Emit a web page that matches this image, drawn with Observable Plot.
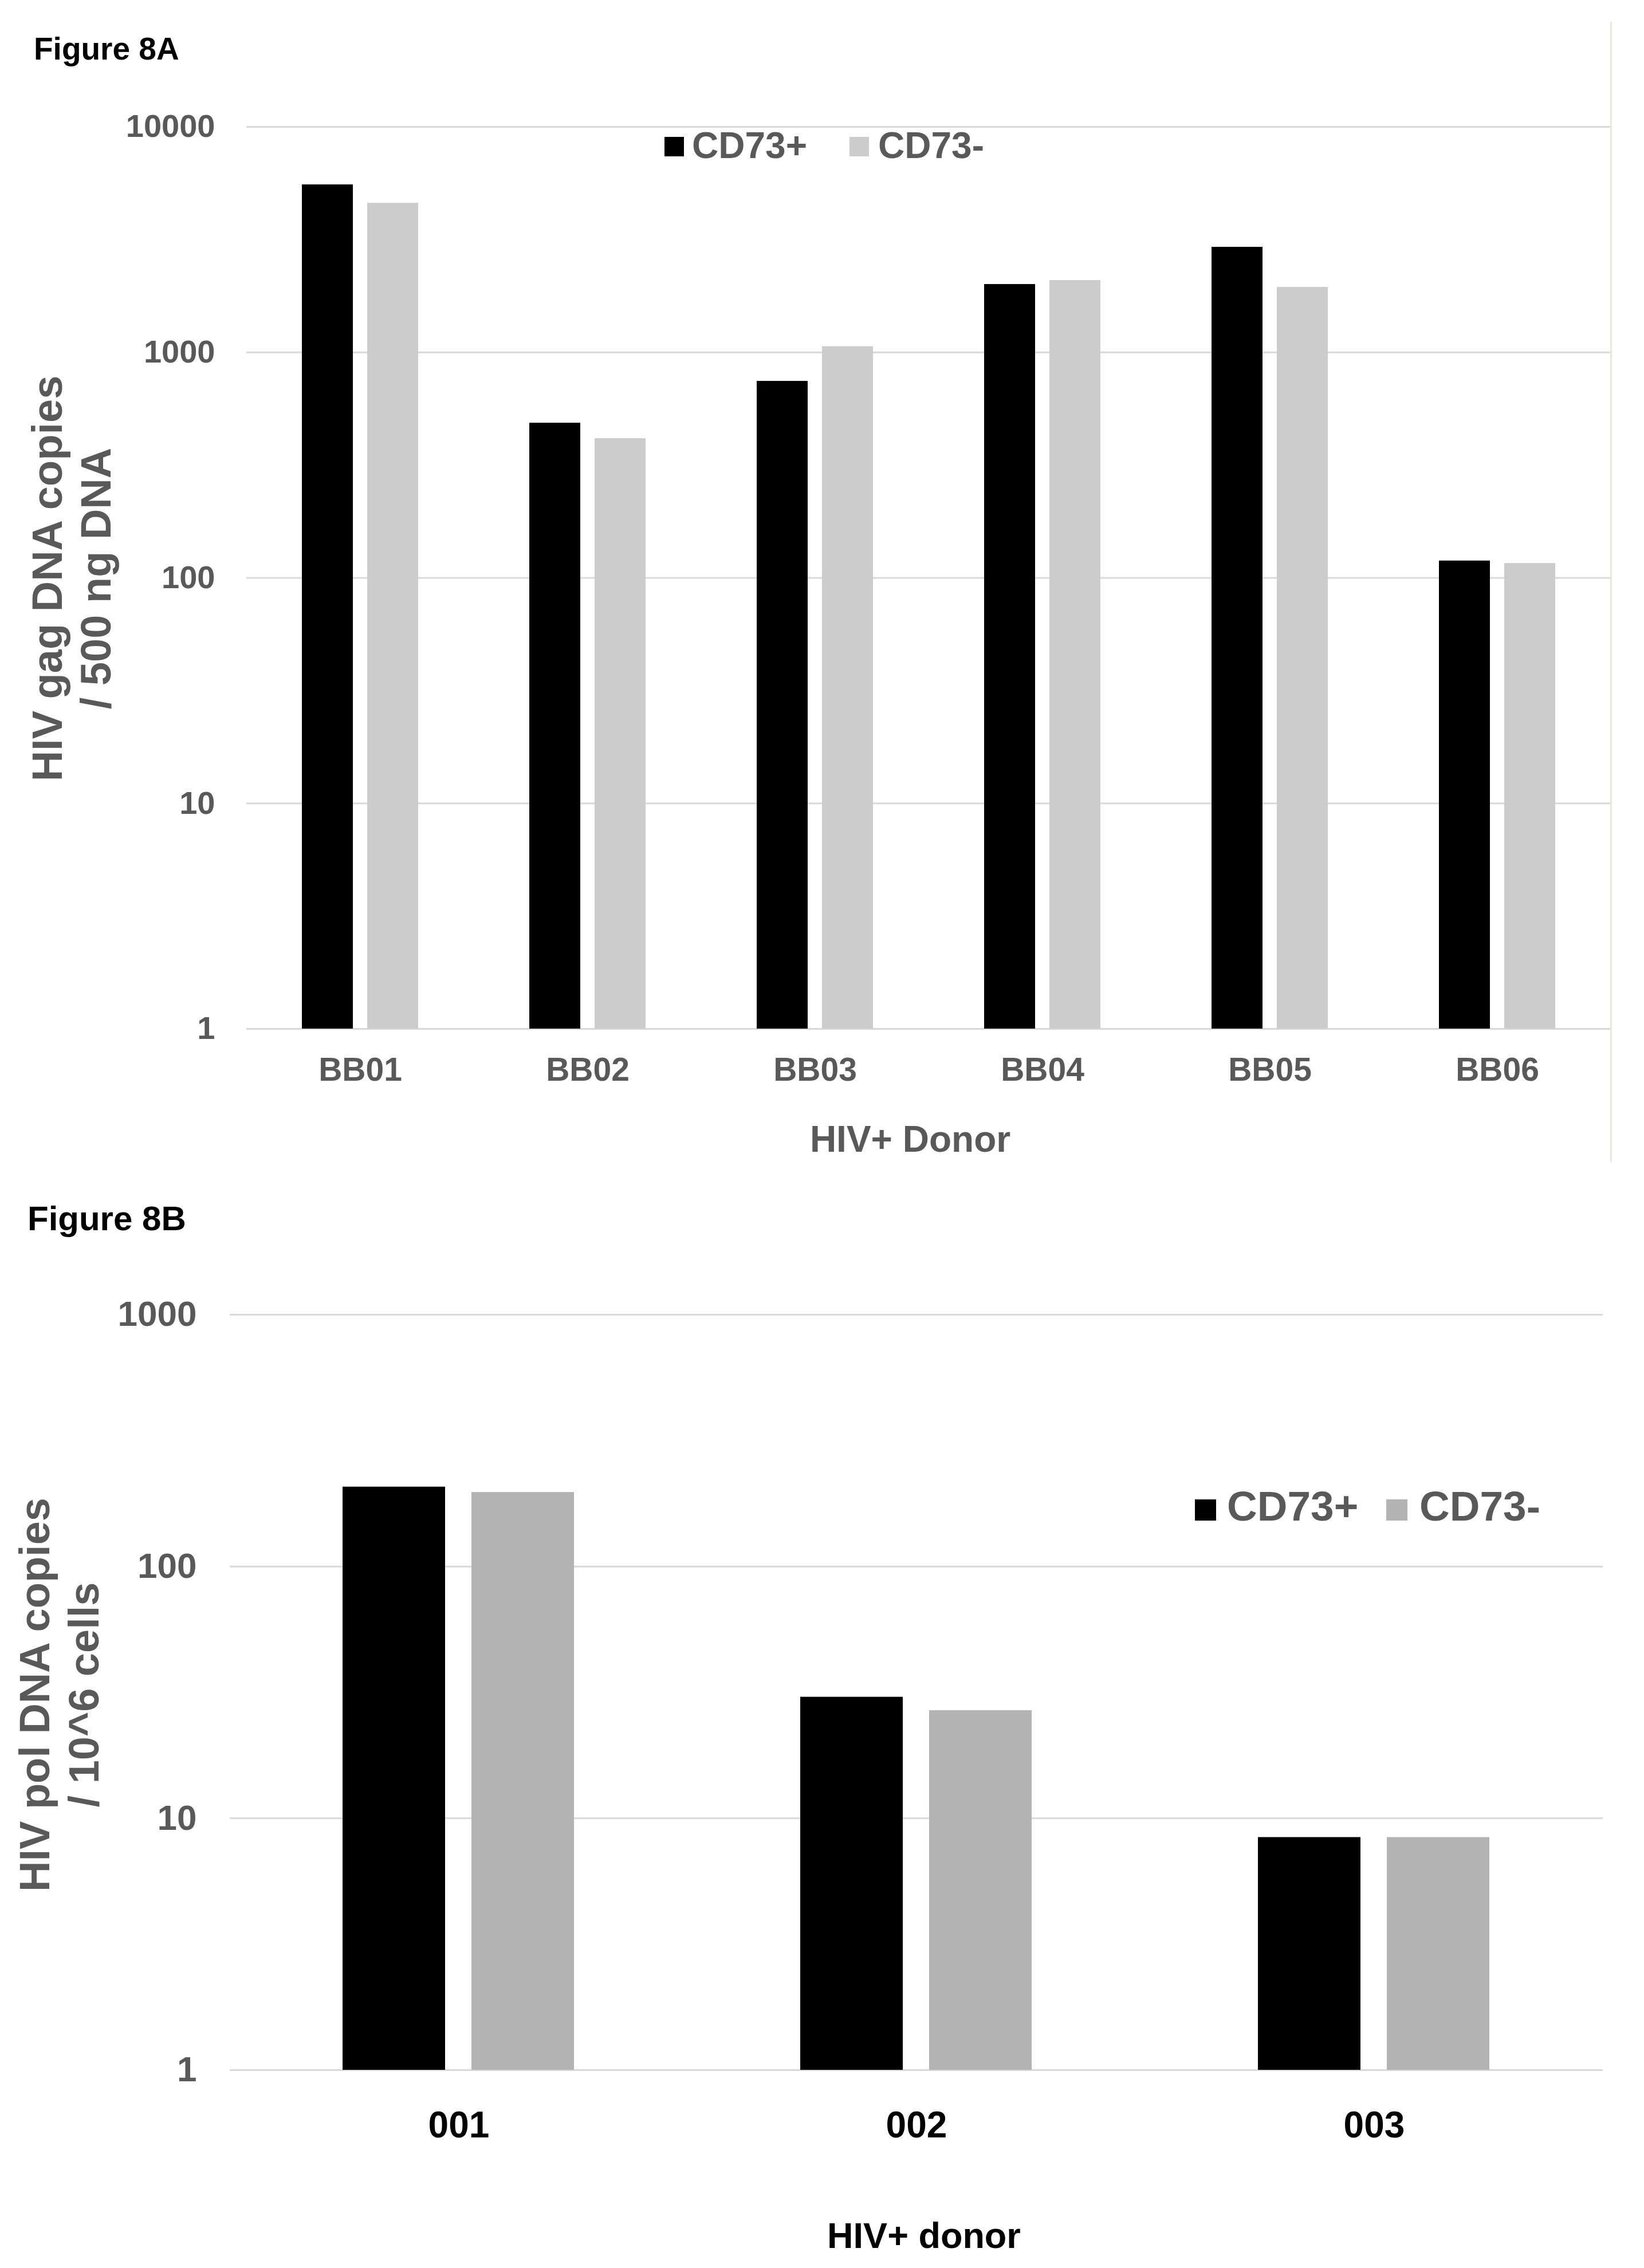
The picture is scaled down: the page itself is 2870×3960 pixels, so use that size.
<!DOCTYPE html>
<html>
<head>
<meta charset="utf-8">
<script src="https://cdn.jsdelivr.net/npm/d3@7"></script>
<script src="https://cdn.jsdelivr.net/npm/@observablehq/plot@0.6"></script>
<style>
  html, body { margin: 0; padding: 0; background: #ffffff; overflow: hidden; }
  #page { position: relative; width: 2870px; height: 3960px; font-family: "Liberation Sans", Arial, sans-serif; font-weight: bold; }
  .t { position: absolute; white-space: pre; }
  .sw { position: absolute; }
</style>
</head>
<body>
<div id="page"></div>
<script>
// ---------------- data ----------------
const series = ["CD73+", "CD73-"];

const donorsA = ["BB01", "BB02", "BB03", "BB04", "BB05", "BB06"];
const cd73PosA = [5540, 486, 745, 2003, 2929, 119];
const cd73NegA = [4590, 415, 1062, 2086, 1945, 116];
const ticksA = [1, 10, 100, 1000, 10000];

const donorsB = ["001", "002", "003"];
const cd73PosB = [207, 30.3, 8.4];
const cd73NegB = [197, 26.8, 8.4];
const ticksB = [1, 10, 100, 1000];

const FONT = '"Liberation Sans", Arial, sans-serif';
const GREY_TEXT = "#595959";

function rows(donors, pos, neg) {
  return donors.flatMap((d, i) => [
    {donor: d, series: series[0], value: pos[i]},
    {donor: d, series: series[1], value: neg[i]}
  ]);
}

function chart(cfg) {
  const data = rows(cfg.donors, cfg.pos, cfg.neg);
  const svg = Plot.plot({
    width: 2870,
    height: cfg.height,
    marginTop: cfg.mt, marginBottom: cfg.mb, marginLeft: cfg.ml, marginRight: cfg.mr,
    style: {fontFamily: FONT, fontWeight: "bold", background: "transparent", overflow: "visible"},
    fx: {domain: cfg.donors, padding: 0, label: null},
    x: {domain: series, axis: null, paddingInner: cfg.pi, paddingOuter: cfg.po},
    y: {type: "log", domain: [cfg.ticks[0], cfg.ticks[cfg.ticks.length - 1]], label: null},
    color: {domain: series, range: ["#000000", cfg.grey]},
    marks: [
      Plot.ruleY(cfg.ticks, {stroke: "#d9d9d9", strokeWidth: 3}),
      Plot.barY(data, {fx: "donor", x: "series", y1: () => cfg.ticks[0], y2: "value", fill: "series"}),
      Plot.axisY({ticks: cfg.ticks, tickFormat: d => String(d), tickSize: 0, tickPadding: cfg.yPad,
                  fontSize: cfg.yFont, fill: GREY_TEXT, label: null}),
      Plot.axisFx({anchor: "bottom", tickSize: 0, tickPadding: cfg.fxPad, fontSize: cfg.fxFont,
                   fill: cfg.fxColor, label: null})
    ]
  });
  svg.style.position = "absolute";
  svg.style.left = "0px";
  svg.style.top = cfg.top + "px";
  return svg;
}

const page = document.getElementById("page");

page.appendChild(chart({
  donors: donorsA, pos: cd73PosA, neg: cd73NegA, ticks: ticksA, grey: "#cccccc",
  top: 0, height: 2050, mt: 221, mb: 254, ml: 430, mr: 58,
  pi: 0.217, po: 0.835, yPad: 55, yFont: 56, fxPad: 50, fxFont: 57, fxColor: GREY_TEXT
}));

page.appendChild(chart({
  donors: donorsB, pos: cd73PosB, neg: cd73NegB, ticks: ticksB, grey: "#b3b3b3",
  top: 2050, height: 1910, mt: 245, mb: 346, ml: 401, mr: 72,
  pi: 0.204, po: 0.870, yPad: 58, yFont: 62, fxPad: 72, fxFont: 64, fxColor: "#000000"
}));

// ---------------- text helpers ----------------
function text(str, x, baseline, fs, color, align) {
  const el = document.createElement("div");
  el.className = "t";
  el.textContent = str;
  el.style.fontSize = fs + "px";
  el.style.lineHeight = fs + "px";
  el.style.color = color;
  el.style.top = (baseline - 0.8465 * fs) + "px";
  if (align === "center") {
    el.style.left = (x - 1000) + "px";
    el.style.width = "2000px";
    el.style.textAlign = "center";
  } else {
    el.style.left = x + "px";
  }
  page.appendChild(el);
}

function vtitle(lines, cx, cy, fs, lh, color) {
  const W = 1200, H = lh * lines.length;
  const el = document.createElement("div");
  el.className = "t";
  el.textContent = lines.join("\n");
  el.style.fontSize = fs + "px";
  el.style.lineHeight = lh + "px";
  el.style.color = color;
  el.style.width = W + "px";
  el.style.height = H + "px";
  el.style.textAlign = "center";
  el.style.left = (cx - W / 2) + "px";
  el.style.top = (cy - H / 2) + "px";
  el.style.transform = "rotate(-90deg)";
  page.appendChild(el);
}

function swatch(x, y, s, color) {
  const el = document.createElement("div");
  el.className = "sw";
  el.style.left = x + "px"; el.style.top = y + "px";
  el.style.width = s + "px"; el.style.height = s + "px";
  el.style.background = color;
  page.appendChild(el);
}

// ---------------- Figure 8A annotations ----------------
text("Figure 8A", 59, 105, 55, "#000000");
vtitle(["HIV gag DNA copies", "/ 500 ng DNA"], 125, 1010, 74, 85, GREY_TEXT);
text("HIV+ Donor", 1589, 2011, 64, GREY_TEXT, "center");
swatch(1160, 239, 34, "#000000");
text(series[0], 1208, 276, 64, GREY_TEXT);
swatch(1483, 239, 34, "#cccccc");
text(series[1], 1533, 276, 64, GREY_TEXT);
// chart-area right border
const border = document.createElement("div");
border.style.position = "absolute";
border.style.left = "2811px"; border.style.top = "38px";
border.style.width = "3px"; border.style.height = "1991px";
border.style.background = "#ebe7dc";
page.appendChild(border);

// ---------------- Figure 8B annotations ----------------
text("Figure 8B", 48, 2149, 60, "#000000");
vtitle(["HIV pol DNA copies", "/ 10^6 cells"], 104, 2959, 74, 86, GREY_TEXT);
text("HIV+ donor", 1613, 3925, 63, "#000000", "center");
swatch(2086, 2618, 37, "#000000");
text(series[0], 2142, 2655, 73, GREY_TEXT);
swatch(2420, 2618, 37, "#b3b3b3");
text(series[1], 2478, 2655, 73, GREY_TEXT);
</script>
</body>
</html>
